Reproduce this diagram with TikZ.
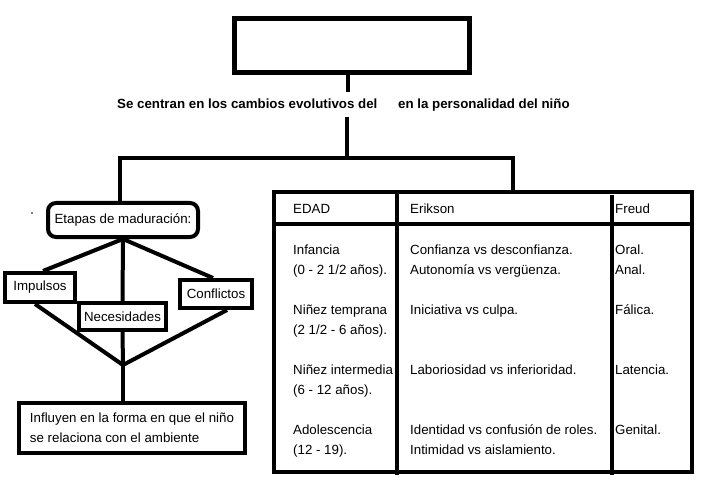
\documentclass[tikz,border=0pt]{standalone}
\usepackage{fontspec}
\setmainfont{Liberation Sans}
\tikzstyle{caja} = [rectangle, draw, line width=4pt, inner sep=0pt]
\tikzstyle{etapa} = [rectangle, rounded corners=8pt, draw, line width=4pt, minimum width=150pt, minimum height=34pt, inner sep=0pt]
\tikzstyle{celda} = [anchor=base west, inner sep=0pt]
\tikzstyle{linea} = [line width=4pt]

\begin{document}
\begin{tikzpicture}[x=1pt,y=-1pt,font=\fontsize{13.3}{20}\selectfont]
  \useasboundingbox (0,0) rectangle (717,497);

  % titulo y frase central
  \node[caja, line width=5pt, minimum width=235pt, minimum height=54pt] (titulo) at (351.5,46) {};
  \node[celda, font=\fontsize{13.3}{20}\selectfont\bfseries] (frase_a) at (117,109) {Se centran en los cambios evolutivos del};
  \node[celda, font=\fontsize{13.3}{20}\selectfont\bfseries] (frase_b) at (398,109) {en la personalidad del niño};
  \coordinate (corte_a) at (348,92);
  \coordinate (corte_b) at (347,117);
  \coordinate (rama) at (347,158);
  \coordinate (rama_I) at (120,158);
  \coordinate (rama_D) at (513,158);

  % rama izquierda
  \node[etapa] (etapas) at (123,220) {Etapas de maduración:};
  \node[caja, minimum width=70pt, minimum height=29pt] (impulsos) at (40,287.5) {Impulsos};
  \node[caja, minimum width=87pt, minimum height=27pt] (necesidades) at (122.5,316.5) {Necesidades};
  \node[caja, minimum width=72pt, minimum height=28pt] (conflictos) at (216,294) {Conflictos};
  \coordinate (union) at (123,365);
  \node[caja, minimum width=226pt, minimum height=50pt, align=left] (influyen) at (132,428)
    {Influyen en la forma en que el niño\\se relaciona con el ambiente};
  \fill (32,213) circle (0.8pt);

  % tabla
  \node[caja, minimum width=418pt, minimum height=280pt] (tabla) at (483,332) {};
  \coordinate (cab_I) at (274,224);
  \coordinate (cab_D) at (694,224);
  \coordinate (div1_a) at (397,192);
  \coordinate (div1_b) at (397,475);
  \coordinate (div2_a) at (612,195);
  \coordinate (div2_b) at (612,475);

  \node[celda] (edad) at (293,213) {EDAD};
  \node[celda] (erikson) at (410,213) {Erikson};
  \node[celda] (freud) at (615,213) {Freud};

  \node[celda] (edad1_a) at (293,254) {Infancia};
  \node[celda] (edad1_b) at (293,274) {(0 - 2 1/2 años).};
  \node[celda] (edad2_a) at (293,314) {Niñez temprana};
  \node[celda] (edad2_b) at (293,334) {(2 1/2 - 6 años).};
  \node[celda] (edad3_a) at (293,374) {Niñez intermedia};
  \node[celda] (edad3_b) at (293,394) {(6 - 12 años).};
  \node[celda] (edad4_a) at (293,434) {Adolescencia};
  \node[celda] (edad4_b) at (293,454) {(12 - 19).};

  \node[celda] (erik1_a) at (410,254) {Confianza vs desconfianza.};
  \node[celda] (erik1_b) at (410,274) {Autonomía vs vergüenza.};
  \node[celda] (erik2) at (410,314) {Iniciativa vs culpa.};
  \node[celda] (erik3) at (410,374) {Laboriosidad vs inferioridad.};
  \node[celda] (erik4_a) at (410,434) {Identidad vs confusión de roles.};
  \node[celda] (erik4_b) at (410,454) {Intimidad vs aislamiento.};

  \node[celda] (freud1_a) at (615,254) {Oral.};
  \node[celda] (freud1_b) at (615,274) {Anal.};
  \node[celda] (freud2) at (615,314) {Fálica.};
  \node[celda] (freud3) at (615,374) {Latencia.};
  \node[celda] (freud4) at (615,434) {Genital.};

  % conectores
  \draw[linea] (titulo.south -| corte_a) -- (corte_a);
  \draw[linea] (corte_b) -- (rama);
  \draw[linea] (rama_I |- etapas.north) -- (rama_I) -- (rama_D) -- (rama_D |- tabla.north);
  \draw[linea] (etapas.south) -- ([xshift=3pt]impulsos.north);
  \draw[linea] (etapas.south) -- (necesidades.north);
  \draw[linea] (etapas.south) -- ([xshift=-3pt]conflictos.north);
  \draw[linea] ([xshift=-5pt]impulsos.south) -- (union);
  \draw[linea] (necesidades.south) -- (union);
  \draw[linea] ([xshift=11pt]conflictos.south) -- (union);
  \draw[linea] (union) -- (union |- influyen.north);
  \draw[linea] (cab_I) -- (cab_D);
  \draw[linea] (div1_a) -- (div1_b);
  \draw[linea] (div2_a) -- (div2_b);
\end{tikzpicture}
\end{document}
